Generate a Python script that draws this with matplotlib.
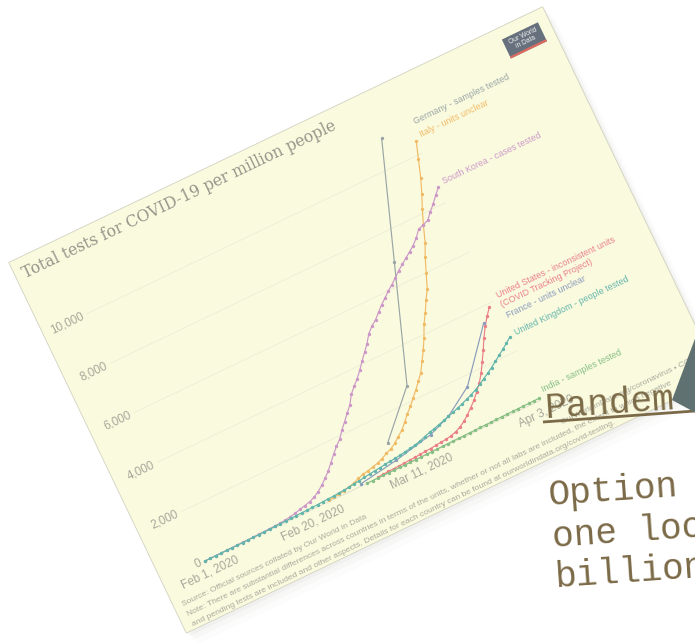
import numpy as np
import matplotlib
matplotlib.use("Agg")
import matplotlib.pyplot as plt
from matplotlib import transforms as mtransforms
from matplotlib.patches import Rectangle, Polygon

# ---- data (days counted from Feb 1, 2020; tests per million) ----
x_tick_days = [0, 19, 39, 62]
x_tick_labels = ["Feb 1, 2020", "Feb 20, 2020", "Mar 11, 2020", "Apr 3, 2020"]
y_ticks = [0, 2000, 4000, 6000, 8000, 10000]
y_tick_labels = ["0", "2,000", "4,000", "6,000", "8,000", "10,000"]

korea_start = 0
korea_vals = [0, 5, 8, 10, 12, 15, 18, 20, 22, 25,
              30, 35, 40, 50, 60, 80, 110, 150, 200, 250,
              300, 380, 500, 650, 830, 1020, 1250, 1480, 1700, 1880,
              2150, 2380, 2620, 2850, 3180, 3400, 3600, 3840, 4100, 4350,
              4600, 4900, 5100, 5250, 5450, 5650, 5820, 6000, 6150, 6320,
              6500, 6650, 6800, 6950, 7100, 7300, 7550, 7620, 7700, 7940,
              8150, 8400, 8620]

italy_start = 23
italy_vals = [40, 60, 90, 120, 170, 220, 300, 360, 400, 450,
              500, 580, 680, 760, 880, 1050, 1200, 1420, 1650, 1850,
              2080, 2300, 2550, 2800, 3150, 3500, 3900, 4350, 4700, 5100,
              5450, 6000, 6540, 7000, 7600, 8150, 8650, 9200, 9850, 10500]

uk_start = 0
uk_vals = [0, 2, 3, 5, 6, 8, 10, 12, 15, 18,
           20, 25, 30, 35, 40, 45, 50, 55, 60, 65,
           70, 80, 90, 100, 110, 125, 140, 160, 190, 210,
           240, 265, 290, 310, 340, 360, 380, 410, 440, 470,
           510, 560, 630, 690, 740, 800, 860, 920, 980, 1050,
           1120, 1200, 1280, 1370, 1480, 1600, 1720, 1850, 1990, 2130,
           2270, 2420, 2570]

us_start = 32
us_vals = [30, 45, 55, 65, 70, 80, 90, 100, 115, 130,
           145, 165, 185, 205, 240, 300, 390, 520, 680, 860,
           1050, 1280, 1520, 1820, 2180, 2550, 2950, 3300, 3600, 3870]

india_start = 30
india_vals = [3, 4, 5, 6, 7, 9, 10, 12, 13, 15,
              17, 20, 22, 25, 28, 31, 35, 38, 41, 45,
              48, 52, 55, 59, 62, 66, 69, 72, 75, 78,
              81, 84, 88]

germany_days = [36, 43, 50, 57]
germany_vals = [1015, 2590, 6860, 11130]

france_days = [29, 36, 43, 47, 52, 59]
france_vals = [80, 300, 600, 920, 1600, 3430]

series = [
    ("Germany - samples tested", germany_days, germany_vals, "#99a6a5", 306),
    ("Italy - units unclear", list(range(italy_start, italy_start + len(italy_vals))), italy_vals, "#f1bb66", 291),
    ("South Korea - cases tested", list(range(korea_start, korea_start + len(korea_vals))), korea_vals, "#cc98c8", 239),
    ("United States - inconsistent units\n(COVID Tracking Project)", list(range(us_start, us_start + len(us_vals))), us_vals, "#ea7f88", 108),
    ("France - units unclear", france_days, france_vals, "#8a9cbb", 91),
    ("United Kingdom - people tested", list(range(uk_start, uk_start + len(uk_vals))), uk_vals, "#62b5aa", 72),
    ("India - samples tested", list(range(india_start, india_start + len(india_vals))), india_vals, "#86bf84", 9),
]

title = "Total tests for COVID-19 per million people"
footer = ["Source: Official sources collated by Our World in Data",
          "Note: There are substantial differences across countries in terms of the units, whether or not all labs are included, the extent to which negative",
          "and pending tests are included and other aspects. Details for each country can be found at ourworldindata.org/covid-testing."]

# ---- figure in picture pixels ----
fig = plt.figure(figsize=(6.95, 6.42), dpi=100)
ax = fig.add_axes([0, 0, 1, 1])
ax.set_xlim(0, 695)
ax.set_ylim(642, 0)
ax.axis("off")

ANG = 25.6
c, s = np.cos(np.radians(ANG)), np.sin(np.radians(ANG))
local = mtransforms.Affine2D.from_values(c, -s, -s, -c, 205, 561) + ax.transData
PX_DAY, PX_VAL = 6.0, 0.0274
data_tf = mtransforms.Affine2D().scale(PX_DAY, PX_VAL) + local
xlab_tf = mtransforms.Affine2D().scale(PX_DAY, 1) + local
ylab_tf = mtransforms.Affine2D().scale(1, PX_VAL) + local

# paper + shadow
for dv, a in [(4, 0.05), (9, 0.035), (15, 0.02)]:
    ax.add_patch(Rectangle((-48 + dv * 0.4, -57 - dv), 592, 411, transform=local,
                           fc="#777766", ec="none", alpha=a, zorder=0.5))
ax.add_patch(Rectangle((-48, -57), 592, 411, transform=local,
                       fc="#fafadf", ec="#d2d2c2", lw=0.6, zorder=1))

# grid
for v in y_ticks:
    ax.plot([x_tick_days[0], x_tick_days[-1]], [v, v], transform=data_tf,
            color="#ededd5" if v else "#dcdcc8", lw=0.6, zorder=2)

txt = dict(rotation=ANG, rotation_mode="anchor", family="Liberation Sans")
for v, lab in zip(y_ticks, y_tick_labels):
    ax.text(-4, v, lab, transform=ylab_tf, ha="right", va="center",
            fontsize=8.4, color="#a7a79a", **txt)
for d, lab in zip(x_tick_days, x_tick_labels):
    ax.text(d, -13, lab, transform=xlab_tf, ha="center", va="center",
            fontsize=8.4, color="#a7a79a", **txt)

for name, days, vals, col, lv in series:
    ax.plot(days, vals, transform=data_tf, color=col, lw=0.85,
            marker="o", ms=1.4, zorder=3)
    ax.text(378, lv, name, transform=local, ha="left", va="center",
            fontsize=6.4, color=col, linespacing=1.15, zorder=3, **txt)

ax.text(-40, 333, title, transform=local, ha="left", va="baseline",
        fontsize=11.3, color="#96968b", rotation=ANG, rotation_mode="anchor",
        family="DejaVu Serif", zorder=3)

for i, line in enumerate(footer):
    ax.text(-39, -30 - 11 * i, line, transform=local, ha="left", va="center",
            fontsize=6.1, color="#aaaa9d", zorder=3, **txt)
ax.text(538, -30, "OurWorldInData.org/coronavirus \u2022 CC BY", transform=local,
        ha="right", va="center", fontsize=6.1, color="#aaaa9d", zorder=3, **txt)

# logo
ax.add_patch(Rectangle((493, 321), 40, 21, transform=local, fc="#66717d", ec="none", zorder=4))
ax.add_patch(Rectangle((493, 321), 40, 2.2, transform=local, fc="#de6a60", ec="none", zorder=4))
ax.text(513, 332.5, "Our World\nin Data", transform=local, ha="center", va="center",
        fontsize=4.8, color="#f2f2f2", linespacing=0.95, zorder=5, **txt)

# page overlay text
brown = "#7b6a47"
mono = dict(family="Liberation Mono", fontsize=26, color=brown, rotation=4,
            rotation_mode="anchor", ha="left", va="baseline", zorder=6)
ax.text(545, 418, "Pandem", **mono)
ax.plot([543, 695], [422, 411], color=brown, lw=2, zorder=6, solid_capstyle="butt")
ax.add_patch(Polygon([(672, 400), (696, 336), (696, 413)], closed=True,
                     fc="#5f7271", ec="none", zorder=7))
ax.text(549, 505, "Option", **mono)
ax.text(553, 547, "one loo", **mono)
ax.text(556, 587, "billion", **mono)

fig.savefig("out.png", dpi=100, facecolor="white")
